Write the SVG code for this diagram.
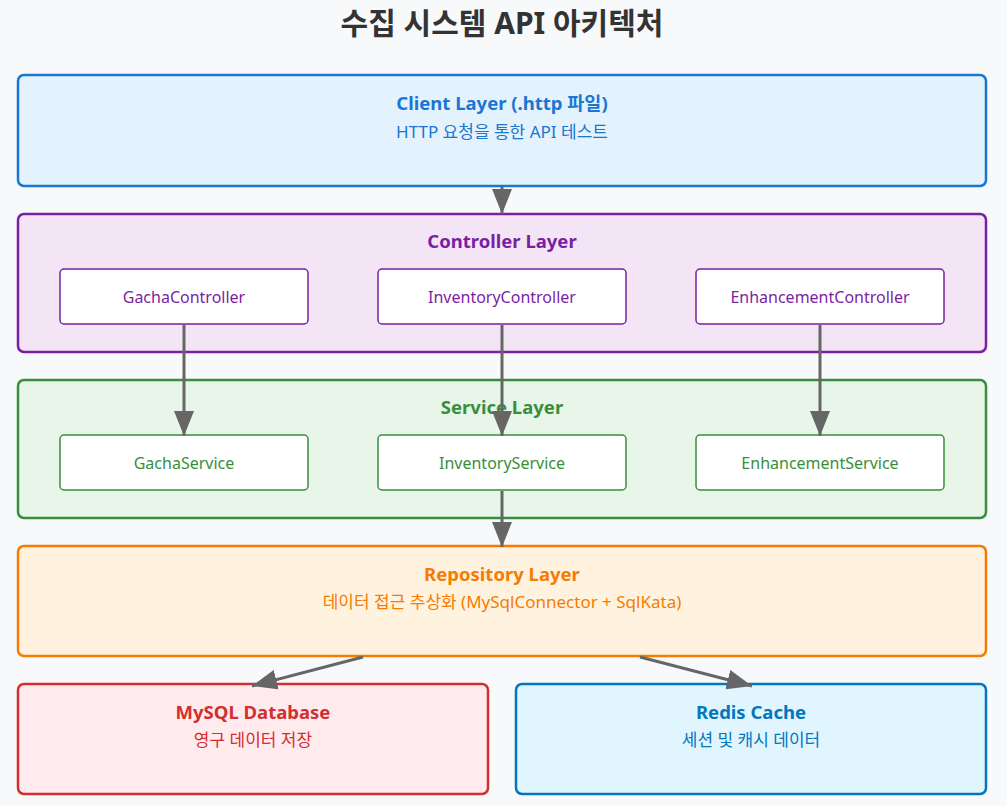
<svg xmlns="http://www.w3.org/2000/svg" width="1007" height="806" viewBox="0 0 1007 806">
<defs>
<marker id="ah" markerWidth="25" markerHeight="20" refX="25" refY="10" orient="auto" markerUnits="userSpaceOnUse">
<path d="M0,0 L25,10 L0,20 Z" fill="#666"/>
</marker>
<style>
text{font-family:"Noto Sans","Noto Sans CJK KR",sans-serif;text-anchor:middle}
.title{font-size:30px;font-weight:bold;fill:#333}
.lt{font-size:18.5px;font-weight:bold}
.ls{font-size:17px}
.it{font-size:16px}
.layer{stroke-width:2.5}
.inner{fill:#fff;stroke-width:1.5}
.conn{stroke:#666;stroke-width:3;fill:none;marker-end:url(#ah)}
</style>
</defs>
<rect width="1007" height="806" fill="#f8f9fa"/>
<text class="title" x="502" y="34">수집 시스템 API 아키텍처</text>

<g id="client">
<rect class="layer" x="18" y="75" width="968" height="111" rx="6" fill="#e3f2fd" stroke="#1976d2"/>
<text class="lt" x="502" y="110" fill="#1976d2">Client Layer (.http 파일)</text>
<text class="ls" x="502" y="138" fill="#1976d2">HTTP 요청을 통한 API 테스트</text>
</g>

<g id="controller">
<rect class="layer" x="18" y="214" width="968" height="138" rx="6" fill="#f3e5f5" stroke="#7b1fa2"/>
<text class="lt" x="502" y="248" fill="#7b1fa2">Controller Layer</text>
</g>
<g id="gacha-controller">
<rect class="inner" x="60" y="269" width="248" height="55" rx="4" stroke="#7b1fa2"/>
<text class="it" x="184" y="303" fill="#7b1fa2">GachaController</text>
</g>
<g id="inventory-controller">
<rect class="inner" x="378" y="269" width="248" height="55" rx="4" stroke="#7b1fa2"/>
<text class="it" x="502" y="303" fill="#7b1fa2">InventoryController</text>
</g>
<g id="enhancement-controller">
<rect class="inner" x="696" y="269" width="248" height="55" rx="4" stroke="#7b1fa2"/>
<text class="it" x="820" y="303" fill="#7b1fa2">EnhancementController</text>
</g>

<g id="service">
<rect class="layer" x="18" y="380" width="968" height="138" rx="6" fill="#e8f5e9" stroke="#388e3c"/>
<text class="lt" x="502" y="414" fill="#388e3c">Service Layer</text>
</g>
<g id="gacha-service">
<rect class="inner" x="60" y="435" width="248" height="55" rx="4" stroke="#388e3c"/>
<text class="it" x="184" y="469" fill="#388e3c">GachaService</text>
</g>
<g id="inventory-service">
<rect class="inner" x="378" y="435" width="248" height="55" rx="4" stroke="#388e3c"/>
<text class="it" x="502" y="469" fill="#388e3c">InventoryService</text>
</g>
<g id="enhancement-service">
<rect class="inner" x="696" y="435" width="248" height="55" rx="4" stroke="#388e3c"/>
<text class="it" x="820" y="469" fill="#388e3c">EnhancementService</text>
</g>

<g id="repository">
<rect class="layer" x="18" y="546" width="968" height="110" rx="6" fill="#fff3e0" stroke="#f57c00"/>
<text class="lt" x="502" y="581" fill="#f57c00">Repository Layer</text>
<text class="ls" x="502" y="608" fill="#f57c00">데이터 접근 추상화 (MySqlConnector + SqlKata)</text>
</g>

<g id="mysql">
<rect class="layer" x="18" y="684" width="470" height="110" rx="6" fill="#ffebee" stroke="#d32f2f"/>
<text class="lt" x="253" y="719" fill="#d32f2f">MySQL Database</text>
<text class="ls" x="253" y="746" fill="#d32f2f">영구 데이터 저장</text>
</g>

<g id="redis">
<rect class="layer" x="516" y="684" width="470" height="110" rx="6" fill="#e1f5fe" stroke="#0277bd"/>
<text class="lt" x="751" y="719" fill="#0277bd">Redis Cache</text>
<text class="ls" x="751" y="746" fill="#0277bd">세션 및 캐시 데이터</text>
</g>

<g id="connectors">
<line class="conn" x1="502" y1="187" x2="502" y2="214"/>
<line class="conn" x1="184" y1="325" x2="184" y2="436"/>
<line class="conn" x1="502" y1="325" x2="502" y2="436"/>
<line class="conn" x1="820" y1="325" x2="820" y2="436"/>
<line class="conn" x1="502" y1="491" x2="502" y2="547"/>
<line class="conn" x1="363" y1="657" x2="252" y2="686"/>
<line class="conn" x1="640" y1="657" x2="752" y2="686"/>
</g>
</svg>
